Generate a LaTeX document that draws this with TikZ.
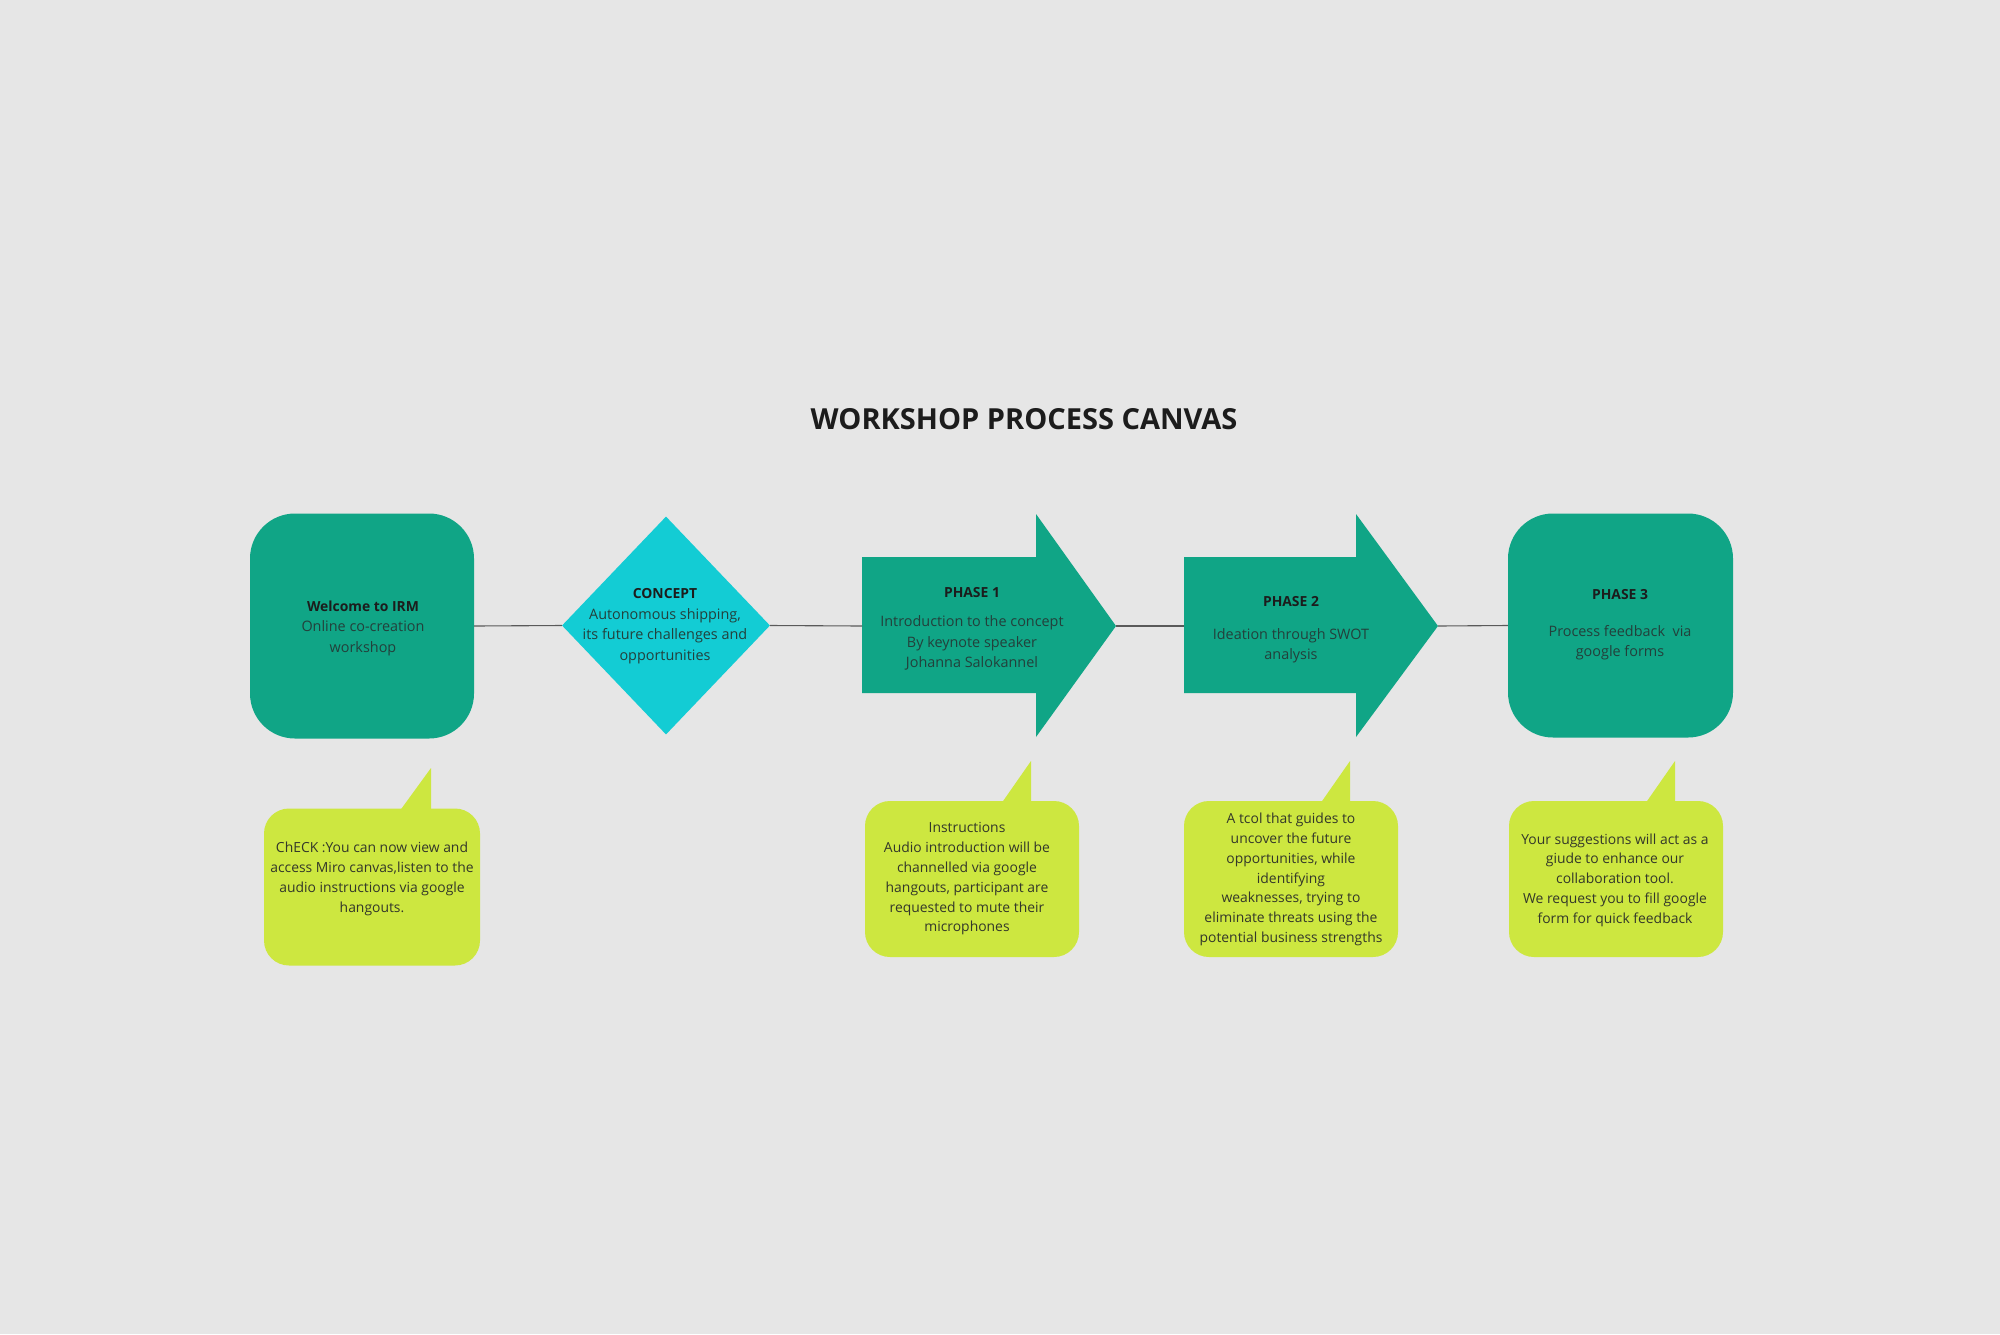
\documentclass[tikz,border=0pt]{standalone}
\usepackage{fontspec}
\setmainfont{Open Sans}
\usetikzlibrary{shapes.geometric}
\definecolor{bg}{HTML}{E6E6E6}
\definecolor{teal}{HTML}{10A586}
\definecolor{cyanc}{HTML}{13CCD4}
\definecolor{lime}{HTML}{CDE740}
\definecolor{darktxt}{HTML}{1C1C1C}
\definecolor{bodytxt}{HTML}{23403B}
\definecolor{calltxt}{HTML}{33372A}
\definecolor{linec}{HTML}{5A5A5A}
\tikzset{
  roundbox/.style={rectangle,rounded corners=45pt,fill=teal,draw=none,inner sep=0pt},
  callbox/.style={rectangle,rounded corners=25pt,fill=lime,draw=none,inner sep=0pt},
  tail/.style={fill=lime,draw=none},
  arrowshape/.style={fill=teal,draw=none},
  boxtext/.style={align=center,text=bodytxt,font=\fontsize{14.4}{20.5}\selectfont,inner sep=0pt},
  calltext/.style={align=center,text=calltxt,font=\fontsize{13.9}{19.8}\selectfont,inner sep=0pt},
  conn/.style={draw=linec,line width=1.1pt}
}
\newcommand{\hdtxt}[1]{{\color{darktxt}\fontsize{13.9}{20.5}\selectfont\bfseries #1}}
\begin{document}
\begin{tikzpicture}[x=1pt,y=-1pt]
\useasboundingbox (0,0) rectangle (2000,1334);
\fill[bg] (0,0) rectangle (2000,1334);

% title
\node[text=darktxt,font=\fontsize{29}{34}\selectfont\bfseries] (title) at (1024,419) {WORKSHOP PROCESS CANVAS};

% shapes
\node[roundbox,minimum width=224pt,minimum height=225pt] (welcome) at (362,626) {};
\node[diamond,fill=cyanc,draw=none,inner sep=0pt,minimum width=208pt,minimum height=218pt] (concept) at (666,625.5) {};
\node[roundbox,minimum width=225pt,minimum height=224pt] (phase3) at (1620.5,625.5) {};

\coordinate (p1tail) at (862,626);
\coordinate (p1tip) at (1116,626);
\fill[arrowshape] (862,557) -- (1036,557) -- (1036,514) -- (p1tip) -- (1036,737) -- (1036,693) -- (862,693) -- cycle;
\coordinate (p2tail) at (1184,626);
\coordinate (p2tip) at (1438,626);
\fill[arrowshape] (1184,557) -- (1356,557) -- (1356,514) -- (p2tip) -- (1356,737) -- (1356,693) -- (1184,693) -- cycle;

% connectors
\draw[conn] (welcome.east) -- (concept.west);
\draw[conn] (concept.east) -- (p1tail);
\draw[conn] (p1tip) -- (p2tail);
\draw[conn] (p2tip) -- (phase3.west);

% texts in shapes
\node[boxtext] (welcomet) at (363,628) {\hdtxt{Welcome to IRM}\\Online co-creation\\workshop};
\node[boxtext] (conceptt) at (665,626) {\hdtxt{CONCEPT}\\Autonomous shipping,\\its future challenges and\\opportunities};
\node[boxtext] (p1t) at (972,629) {\hdtxt{PHASE 1}\\[9pt]Introduction to the concept\\By keynote speaker\\Johanna Salokannel};
\node[boxtext] (p2t) at (1291,630) {\hdtxt{PHASE 2}\\[12pt]Ideation through SWOT\\analysis};
\node[boxtext] (p3t) at (1620,625) {\hdtxt{PHASE 3}\\[16pt]Process feedback\ \ via\\google forms};

% callouts
\node[callbox,minimum width=216pt,minimum height=157pt] (c1) at (372,887) {};
\fill[tail] (399,812) -- (431,768) -- (431,812) -- cycle;
\node[callbox,minimum width=214pt,minimum height=156pt] (c2) at (972,879) {};
\fill[tail] (1001,804) -- (1031,761) -- (1031,804) -- cycle;
\node[callbox,minimum width=214pt,minimum height=156pt] (c3) at (1291,879) {};
\fill[tail] (1320,804) -- (1350,761) -- (1350,804) -- cycle;
\node[callbox,minimum width=214pt,minimum height=156pt] (c4) at (1616,879) {};
\fill[tail] (1645,804) -- (1675,761) -- (1675,804) -- cycle;

\node[calltext] (c1t) at (372,879) {ChECK :You can now view and\\access Miro canvas,listen to the\\audio instructions via google\\hangouts.};
\node[calltext] (c2t) at (967,879) {Instructions\\Audio introduction will be\\channelled via google\\hangouts, participant are\\requested to mute their\\microphones};
\node[calltext] (c3t) at (1291,879.5) {A tcol that guides to\\uncover the future\\opportunities, while\\identifying\\weaknesses, trying to\\eliminate threats using the\\potential business strengths};
\node[calltext] (c4t) at (1615,880) {Your suggestions will act as a\\giude to enhance our\\collaboration tool.\\We request you to fill google\\form for quick feedback};
\end{tikzpicture}
\end{document}
